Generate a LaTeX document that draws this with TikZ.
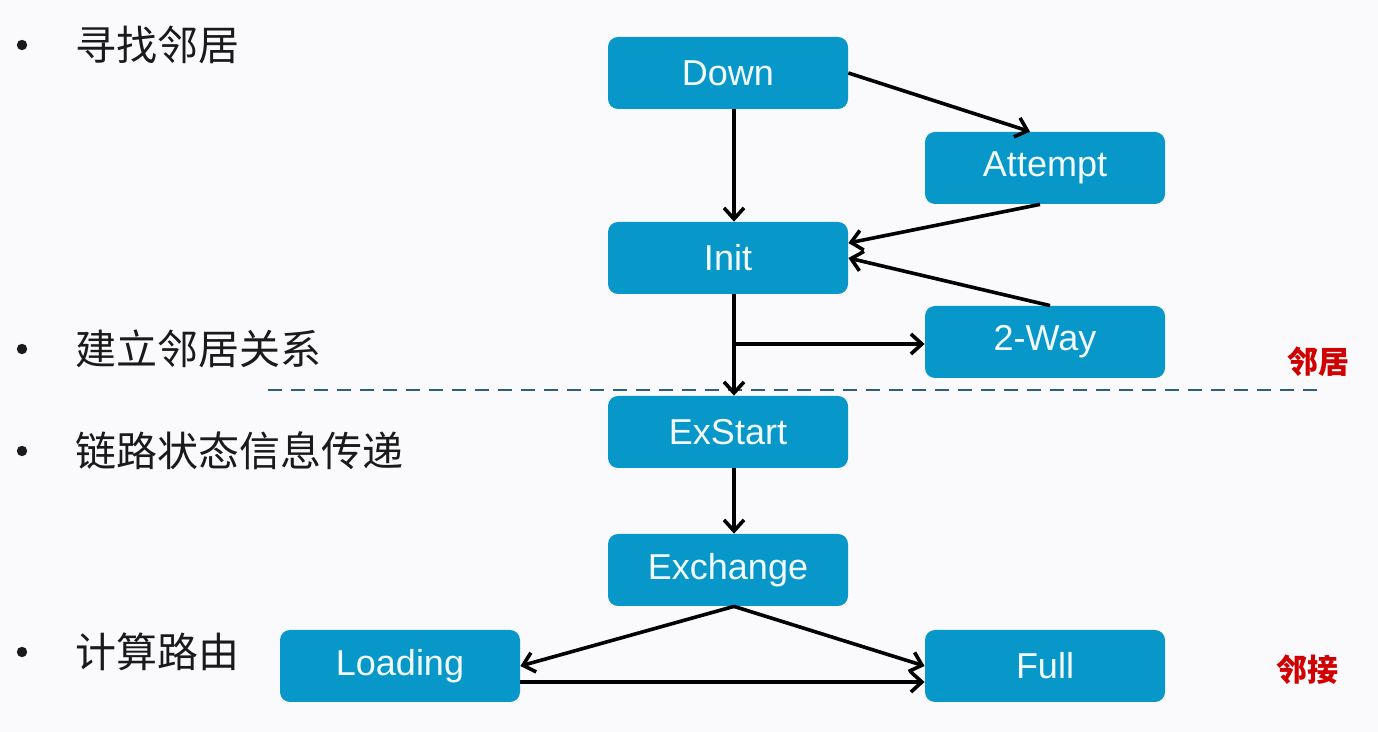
\documentclass[tikz,border=0pt]{standalone}
\usepackage{fontspec}
\setmainfont{Liberation Sans}
\newfontfamily\cjk{Noto Sans CJK SC}
\usetikzlibrary{arrows.meta,positioning}
\definecolor{StateBlue}{HTML}{0797C9}
\definecolor{StateText}{HTML}{F2FBFF}
\definecolor{RuleBlue}{HTML}{2F5F7F}
\definecolor{NoteRed}{HTML}{D00000}
\definecolor{Paper}{HTML}{FAFAFD}
\definecolor{Ink}{HTML}{1A1A1A}

\begin{document}
\begin{tikzpicture}[x=0.5pt,y=-0.5pt,
  state/.style={rectangle,rounded corners=5pt,fill=StateBlue,text=StateText,minimum width=120pt,minimum height=36pt,font=\fontsize{18}{20}\selectfont},
  trans/.style={-{Straight Barb[length=5.5pt,width=10pt]},line width=1.8pt},
  item/.style={anchor=west,inner sep=0pt,text=Ink,font=\cjk\fontsize{20.5}{24}\selectfont},
  note/.style={text=NoteRed,font=\cjk\bfseries\fontsize{15.5}{18}\selectfont}]
  \fill[Paper] (0,0) rectangle (1378,732);
  \useasboundingbox (0,0) rectangle (1378,732);
  % bullet list
  \foreach \y/\txt/\nm in {45/寻找邻居/find,349/建立邻居关系/build,451/链路状态信息传递/flood,652/计算路由/route}{
    \fill[Ink] (22,\y) circle (2.6pt);
    \node[item] (\nm) at (75,\y) {\txt};
  }
  % states
  \node[state] (down) at (728,73) {Down};
  \node[state] (attempt) at (1045,168) {Attempt};
  \node[state] (init) at (728,258) {Init};
  \node[state] (twoway) at (1045,342) {2-Way};
  \node[state] (exstart) at (728,432) {ExStart};
  \node[state] (exchange) at (728,570) {Exchange};
  \node[state] (loading) at (400,666) {Loading};
  \node[state] (full) at (1045,666) {Full};
  % separator and notes
  \coordinate (ruleL) at (268,390);
  \coordinate (ruleR) at (1320,390);
  \draw[RuleBlue,line width=1pt,dash pattern=on 7pt off 4.5pt] (ruleL) -- (ruleR);
  \node[note] (nbr) at (1318,362) {邻居};
  \node[note] (adj) at (1307,670) {邻接};
  % transitions
  \draw[trans] ([xshift=3pt]down.south) -- ([xshift=3pt]init.north);
  \draw[trans] (down.east) -- ([xshift=-7.5pt]attempt.north);
  \draw[trans] ([xshift=-2.5pt]attempt.south) -- ([yshift=7.5pt]init.east);
  \draw[trans] ([xshift=2.5pt]twoway.north) -- (init.east);
  \draw[trans] ([xshift=3pt]init.south) -- ([xshift=3pt]exstart.north);
  \coordinate (fork) at (734,344);
  \draw[trans] (fork) -- (fork -| twoway.west);
  \draw[trans] ([xshift=3pt]exstart.south) -- ([xshift=3pt]exchange.north);
  \draw[trans] ([xshift=3pt]exchange.south) -- (loading.east);
  \draw[trans] ([xshift=3pt]exchange.south) -- (full.west);
  \draw[trans] ([yshift=-8pt]loading.east) -- ([yshift=-8pt]full.west);
\end{tikzpicture}
\end{document}
